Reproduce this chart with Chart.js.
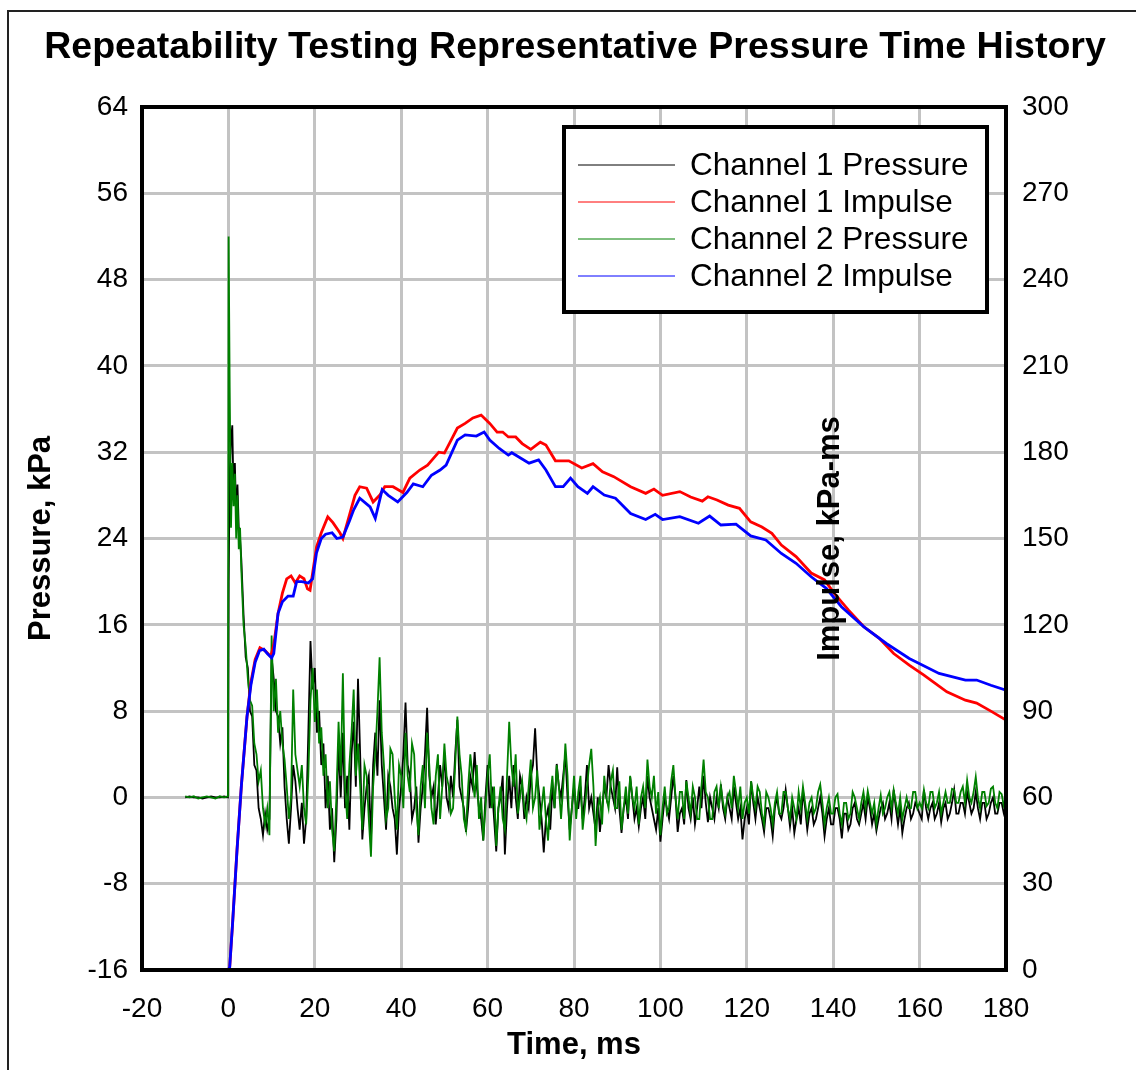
<!DOCTYPE html>
<html>
<head>
<meta charset="utf-8">
<title>Repeatability Testing Representative Pressure Time History</title>
<script src="https://cdn.jsdelivr.net/npm/chart.js@4.4.1/dist/chart.umd.min.js"></script>
<style>
    html, body { margin: 0; padding: 0; background: #fff; }
    #wrap { width: 1136px; height: 1070px; }
</style>
</head>
<body>
<div id="wrap"><canvas id="pressureChart" width="1136" height="1070"></canvas></div>
<script>
// --- DATA ---

// pressure sample times, ms
const pressureTime = [
    -10, -9, -8, -7, -6, -5, -4, -3, -2, -1,
    -0.1, 0.05, 0.3, 0.6, 0.9, 1.2, 1.5, 1.8, 2.1, 2.4,
    2.7, 3.0, 3.5, 4, 4.5, 5, 5.5, 6, 6.5, 7,
    7.5, 8, 8.5, 9, 9.5, 10, 10.5, 11, 11.5, 12,
    12.5, 13, 13.5, 14, 14.5, 15, 15.5, 16, 16.5, 17,
    17.5, 18, 18.5, 19, 19.5, 20, 20.5, 21, 21.5, 22,
    22.5, 23, 23.5, 24, 24.5, 25, 25.5, 26, 26.5, 27,
    27.5, 28, 28.5, 29, 29.5, 30,
    30.5, 31, 31.5, 32, 32.5, 33, 33.5, 34, 34.5, 35,
    35.5, 36, 36.5, 37, 37.5, 38, 38.5, 39, 39.5, 40,
    40.5, 41, 41.5, 42, 42.5, 43, 43.5, 44, 44.5, 45,
    45.5, 46, 46.5, 47, 47.5, 48, 48.5, 49, 49.5, 50,
    50.5, 51, 51.5, 52, 52.5, 53, 53.5, 54, 54.5, 55,
    55.5, 56, 56.5, 57, 57.5, 58, 58.5, 59, 59.5, 60,
    60.5, 61, 61.5, 62, 62.5, 63, 63.5, 64, 64.5, 65,
    65.5, 66, 66.5, 67, 67.5, 68, 68.5, 69, 69.5, 70,
    70.5, 71, 71.5, 72, 72.5, 73, 73.5, 74, 74.5, 75,
    75.5, 76, 76.5, 77, 77.5, 78, 78.5, 79, 79.5, 80,
    80.5, 81, 81.5, 82, 82.5, 83, 83.5, 84, 84.5, 85,
    85.5, 86, 86.5, 87, 87.5, 88, 88.5, 89, 89.5, 90,
    90.5, 91, 91.5, 92, 92.5, 93, 93.5, 94, 94.5, 95,
    95.5, 96, 96.5, 97, 97.5, 98, 98.5, 99, 99.5, 100,
    100.5, 101, 101.5, 102, 102.5, 103, 103.5, 104, 104.5, 105,
    105.5, 106, 106.5, 107, 107.5, 108, 108.5, 109, 109.5, 110,
    110.5, 111, 111.5, 112, 112.5, 113, 113.5, 114, 114.5, 115,
    115.5, 116, 116.5, 117, 117.5, 118, 118.5, 119, 119.5, 120,
    120.5, 121, 121.5, 122, 122.5, 123, 123.5, 124, 124.5, 125,
    125.5, 126, 126.5, 127, 127.5, 128, 128.5, 129, 129.5, 130,
    130.5, 131, 131.5, 132, 132.5, 133, 133.5, 134, 134.5, 135,
    135.5, 136, 136.5, 137, 137.5, 138, 138.5, 139, 139.5, 140,
    140.5, 141, 141.5, 142, 142.5, 143, 143.5, 144, 144.5, 145,
    145.5, 146, 146.5, 147, 147.5, 148, 148.5, 149, 149.5, 150,
    150.5, 151, 151.5, 152, 152.5, 153, 153.5, 154, 154.5, 155,
    155.5, 156, 156.5, 157, 157.5, 158, 158.5, 159, 159.5, 160,
    160.5, 161, 161.5, 162, 162.5, 163, 163.5, 164, 164.5, 165,
    165.5, 166, 166.5, 167, 167.5, 168, 168.5, 169, 169.5, 170,
    170.5, 171, 171.5, 172, 172.5, 173, 173.5, 174, 174.5, 175,
    175.5, 176, 176.5, 177, 177.5, 178, 178.5, 179, 179.5, 180
];

// Channel 1 pressure, kPa (black)
const ch1Pressure = [
    0.0, 0.1, 0.0, 0.0, -0.1, 0.0, 0.1, 0.0, 0.0, 0.1,
    0.0, 20, 30, 33, 34.5, 28, 31, 26, 29, 25,
    24, 22, 17, 13, 12, 8, 7.5, 3, 2.5, -1,
    -2, -3.5, -1.5, -3, -2, 13, 11, 8, 7.5, 5,
    6.5, 1, -2, -4.3, -1, 3, 1.5, -1, -3, -0.5,
    -4.3, -2, 6, 14.5, 10, 12, 6, 8, 3, 5,
    -1, 2, -3, -1, -6, -2, 5, 0, 6, -1,
    2, -3, 4, 7, 1, 11,
    4, -3.9, -1, 1, 2, -4, 3, 6, 2, 9,
    3, 0, -3, 2, 1, -1, -2, -5.3, -1, 1,
    4, 8.8, 3, 2, -2, -1, 1, -4.2, -1, 1,
    4, 8.3, 2, 0, 1, -2.5, 0, 3, 1, 4,
    0, -1, 2, 0, 4, 7.2, 1, 0, -1, -3.2,
    -1, 2, 1, 4.2, 1, -1, -2, -4, 0, 3,
    -1, 1, -2, -5, -1, 0, 2, -5.3, -1, 2,
    -1, 3, 0, -2, 2, 1, -2, 0, -1, 2,
    3, 6.4, 2, 0, -2, -5.1, -2, -1, -3, 1,
    -1, 3.1, 1, 0, 2, 4, 0, -3, -1, 1,
    -1, -1, 1, -2, 0, 3, -1, 0, -1.5, -3,
    0, -3.2, -1, 1, 0, 3, 1, 0, -1, 2.8,
    -1, -3.3, -1, 0, -2, 1.9, 0, -2, -1, -2.7,
    -1, 0, -2, 2, 0, -1, -2, -3, -1, -4.1,
    -2, 0, -1, -2, 0, 2, 0, -3.2, -1.5, -1,
    -2.5, 1.6, -1, -2, 0, -2.5, -1, 1, -1, 2,
    -0.5, -2.3, 0, -1, -2, 0, -1, 1.2, -1, -2,
    0, -1, -2, 1, -0.5, -2, -1, -3.9, -2, -1,
    -2.5, 1.5, -0.5, -2, 0, -1, -2, -3.2, -1, -1,
    -2, -3.6, -1, 0, -1.5, -2, -1, 0.7, -1, -2.7,
    -1, -3.3, -2, -1, -2.5, 0.6, -1, -3, -1.5, -1,
    -2.5, -2, -1, 0, -1.5, -3.6, -2, -1, -2.5, -2.5,
    -1, -1, -2, -3.8, -1.5, -1.5, -3, -2.5, -1, -0.5,
    -2, -2.5, -1.5, -0.5, -2, 0, -1, -2.5, -1.5, -3.1,
    -2, -1, -0.5, -2, -1.5, -0.5, -2, 0.7, -1, -2.5,
    -1, -3.3, -2, -1, -0.5, -2, -1.5, -0.5, -1, -1.5,
    -2, 0.7, -1, -2, -1, -0.5, -2, -1.5, -0.5, -2.3,
    -1, -0.5, -2, -1.5, -0.5, 0.7, -1.5, -1.5, -0.5, -0.5,
    -1.5, 0.5, -0.5, -1.5, -1, 0.5, -1, -2, -0.5, -0.5,
    -2, -1.5, -0.5, 0, -1.5, -1.5, -0.5, -0.5, -1.5, -2.2
];

// Channel 2 pressure, kPa (green)
const ch2Pressure = [
    0.1, 0.0, 0.1, -0.1, 0.0, 0.1, 0.0, -0.1, 0.1, 0.0,
    0.1, 52.0, 38, 25, 31, 27, 30, 24, 28, 23,
    25, 21, 16, 14, 11, 9, 8.5, 5, 4, 1.5,
    2.5, -1, -2.5, -1, -3.5, 15, 8, 11, 6, 8,
    5, 3.5, 1, -2, 0, 10, 4, 2.5, 1, 3,
    -1, -2.5, 2, 9, 12, 7, 10, 5, 6.5, 2,
    4, -1, 1.5, -3, -5, 0, 7, 2, 11.5, 1,
    -2, 3, 6, 10, 2, 5,
    1, -3, 3, 2, -2, -5.5, 1, 4, 8, 13,
    6, 3, -2, -1, 4.5, 4, 0, -3, 3, 2,
    -1, 6, 2, 0.5, 5, 4, -1, -3.5, 1, 3,
    -1, 6, 3, -1, -2.5, 2, 4, -2, 1, 5,
    2, 1, -1.5, -1, 3, 7.5, 4, 2, -2, -3,
    1, 4, 2, 0, 3, -2, 0, -4, -1, 2,
    4, -1, 1, -4.5, -1, 1, -2, -3, 2, 7,
    3, 1, 4, -1.5, 0, 1.5, -1, -2, 1, 3.5,
    -1, 0, 2.5, -3, -1, 1, -2, -4, 0, 2,
    -1, 3, 1, -2, 1, 5, 2, -4, -1, 2,
    -2, 0.5, 2, -3, -1, 1, 3, 4.5, 1, -4.5,
    -1, 0, -2.5, 2, 0, -1, 1.5, 2.5, -1, -1,
    1.5, -3, -1, 1, -1.5, 2, 0, -1, 1, -2.5,
    0, 1, -1, 3.5, 1, 0, 2, -1.5, 0.5, -3.5,
    -1, 1, -1.5, -1, 1.5, 3, 0, -2, 0.5, 0.5,
    -2, 1.5, 0, -1.5, 1, 0, -2, -2, 1, 3.5,
    0.5, 0, -2, -2, 0.5, 1, -1, 1, -0.5, -1.5,
    0, 0.5, -1, 2, 0.5, -1, 1, -2, -0.5, 0,
    -1.5, 1.5, 0, -1, 1, 0.5, -1.5, -2.5, 0.5, 0,
    -1, -2.5, -0.5, 0.5, -1.5, -1.5, 0.5, 0.5, -1, -2,
    0, -1, -2, 0.5, -1, 1, -0.5, -2, -0.5, 0,
    -1.5, -1, 0.5, 1.2, -0.5, -2.5, -1, 0, -1.5, -1.5,
    0, 0.3, -1.5, -2.5, -0.5, -0.5, -2, -1.5, 0.5, 0,
    -1, -2, -0.5, 0.5, -1, 0.6, -0.5, -1.5, -0.5, -2.5,
    -1, 0.2, -1.5, -1, 0, 0.5, -1, 0.7, -0.5, -1.5,
    0, -2, -1, 0, -1, -1, 0.5, 0.5, -1, -0.5,
    -1, 0.7, -0.5, -1, 0.5, 0.5, -1, -0.5, 0.5, -1.5,
    -0.5, 0.5, -0.5, -0.5, 0.8, 0.7, -0.5, -0.5, 0.5, 1.0,
    -0.5, 1.6, 0, -0.5, 0.5, 1.9, 0, -1, 0.5, 0.5,
    -0.8, -0.5, 0.8, 1, -0.5, -1, 0.5, 0.3, -0.8, -0.5
];

// Channel 1 impulse, kPa-ms (red)
const ch1ImpulseTime = [
    0, 0.3, 1, 2, 3, 4.3, 5.2, 6.2, 7.3, 8.5,
    9.8, 10.5, 11.5, 12.5, 13.5, 14.5, 15.5, 16.5, 17.5, 18.3,
    18.9, 20.4, 21.5, 23, 24.2, 25.8, 26.5, 28, 29.3, 30.4,
    32, 33.5, 35, 36.2, 38.1, 40.4, 42, 44.3, 46.1, 48.7,
    50, 51.5, 53, 54.8, 56.6, 58.5, 60.5, 62.2, 63.5, 64.8,
    66.5, 68, 70, 72.2, 73.5, 75.7, 78.8, 81.8, 84.4, 86.6,
    89.2, 93.1, 96.6, 98.5, 100.5, 104.5, 107, 109.7, 111, 113.1,
    115.7, 118.3, 120.9, 123.5, 125.8, 128, 131.4, 134.9, 138, 140.2,
    143.6, 147.1, 150.6, 154, 157.6, 161, 166.3, 170.6, 173.2, 176.5,
    180
];
const ch1Impulse = [
    0, 1, 17, 42, 64, 88, 100, 108, 112, 111,
    109, 113, 124, 131, 136, 137, 134.5, 137, 136, 132.5,
    132, 147, 152, 157.5, 155.5, 152, 150, 158, 165, 168,
    167.5, 162.7, 165, 168, 168, 166, 171, 173.8, 175.5, 180,
    179.7, 184, 188.4, 190, 191.9, 192.9, 190, 187, 187, 185.3,
    185.3, 183, 181, 183.5, 182.5, 177, 177, 174.5, 176, 173.2,
    171.5, 168, 165.7, 167.2, 165, 166.3, 164.4, 163, 164.5, 163.4,
    161.6, 160.5, 155.8, 154, 151.8, 147.7, 143.7, 138, 135.6, 131,
    125, 119.3, 115.4, 110, 106, 102.5, 96.7, 93.8, 92.8, 90,
    86.9
];

// Channel 2 impulse, kPa-ms (blue)
const ch2ImpulseTime = [
    0, 0.3, 1, 2, 3, 4.3, 5.2, 6.2, 7.2, 8.2,
    9.0, 10.0, 10.5, 11.5, 12.5, 13.8, 15.0, 15.8, 17.0, 18.5,
    19.5, 20.4, 21.5, 22.5, 24, 25.1, 26.5, 28, 29, 30.4,
    32.8, 34, 35.6, 37, 39.2, 41.3, 42.8, 45, 47, 49,
    50.4, 53, 54.8, 57.4, 59.2, 60.5, 62.7, 64.8, 65.6, 69.6,
    71.8, 73.5, 75.7, 77.5, 79.2, 80.9, 83.1, 84.4, 87, 89.6,
    93.1, 96.6, 98.8, 100.5, 104.5, 108.8, 111.4, 114, 117.5, 120.9,
    124.4, 128, 131.4, 134.9, 138.4, 141.9, 147.1, 152.3, 157.6, 164.5,
    170.6, 173.2, 176.5, 180
];
const ch2Impulse = [
    0, 1, 17, 41.7, 64, 88, 99, 107, 111, 111.5,
    110, 108.5, 110, 124, 128, 130, 130, 135, 135, 134.5,
    136, 145, 150, 151.5, 152, 150, 150.5, 156, 160, 164,
    161, 157, 167, 165, 162.7, 166, 169, 168, 172, 173.8,
    175.5, 184.2, 186, 185.6, 187, 184.2, 181.3, 179, 179.8, 176.2,
    177.3, 173.8, 168, 168, 171, 168, 165.7, 168, 165.1, 164,
    158.7, 156.6, 158.4, 156.6, 157.6, 155.3, 157.8, 154.7, 155, 150.9,
    149.5, 144.8, 141.4, 136.7, 132.7, 126.3, 119.3, 113.5, 108.3, 103.1,
    100.8, 100.8, 99, 97.3
];

// --- HELPERS ---
function toPoints(times, values) {
    if (times.length !== values.length) {
        console.error('length mismatch', times.length, values.length);
    }
    return times.map((t, i) => ({ x: t, y: values[i] }));
}

const FONT = '"Liberation Sans", Arial, Helvetica, sans-serif';
Chart.defaults.font.family = FONT;
Chart.defaults.color = '#000';

// white background + outer frame of the figure
const framePlugin = {
    id: 'frame',
    beforeDraw(chart) {
        const c = chart.ctx;
        c.save();
        c.fillStyle = '#fff';
        c.fillRect(0, 0, chart.width, chart.height);
        c.strokeStyle = '#222';
        c.lineWidth = 2;
        c.beginPath();
        c.moveTo(8, chart.height);
        c.lineTo(8, 11);
        c.lineTo(chart.width, 11);
        c.stroke();
        c.restore();
    },
    afterDatasetsDraw(chart) {
        const a = chart.chartArea;
        const c = chart.ctx;
        c.save();
        c.strokeStyle = '#000';
        c.lineWidth = 4;
        c.strokeRect(a.left, a.top, a.right - a.left, a.bottom - a.top);
        c.restore();
    }
};

// boxed legend inside the plot, top right
const legendBoxPlugin = {
    id: 'legendBox',
    afterDraw(chart) {
        const a = chart.chartArea;
        const c = chart.ctx;
        const boxW = 423, boxH = 185;
        const x0 = a.right - 19 - boxW;
        const y0 = a.top + 20;
        c.save();
        c.fillStyle = '#fff';
        c.fillRect(x0, y0, boxW, boxH);
        c.strokeStyle = '#000';
        c.lineWidth = 4;
        c.strokeRect(x0, y0, boxW, boxH);
        c.font = '31.5px ' + FONT;
        c.textBaseline = 'middle';
        c.textAlign = 'left';
        chart.data.datasets.forEach((ds, i) => {
            const y = y0 + 38 + i * 37;
            c.strokeStyle = ds.borderColor;
            c.lineWidth = 1;
            c.beginPath();
            c.moveTo(x0 + 14, y);
            c.lineTo(x0 + 111, y);
            c.stroke();
            c.fillStyle = '#000';
            c.fillText(ds.label, x0 + 126, y + 1);
        });
        c.restore();
    }
};

// right axis title, drawn where the original left it (inside the plot)
const impulseTitlePlugin = {
    id: 'impulseTitle',
    afterDraw(chart) {
        const a = chart.chartArea;
        const c = chart.ctx;
        c.save();
        c.translate(a.right - 176, (a.top + a.bottom) / 2);
        c.rotate(-Math.PI / 2);
        c.font = 'bold 31px ' + FONT;
        c.fillStyle = '#000';
        c.textAlign = 'center';
        c.textBaseline = 'middle';
        c.fillText('Impulse, kPa-ms', 0, 0);
        c.restore();
    }
};

const gridStyle = { color: '#c3c3c3', lineWidth: 3, drawTicks: false };

new Chart(document.getElementById('pressureChart'), {
    type: 'line',
    data: {
        datasets: [
            { label: 'Channel 1 Pressure', data: toPoints(pressureTime, ch1Pressure), borderColor: '#000000', borderWidth: 1.8, yAxisID: 'y', order: 4 },
            { label: 'Channel 1 Impulse', data: toPoints(ch1ImpulseTime, ch1Impulse), borderColor: '#ff0000', borderWidth: 2.8, yAxisID: 'y2', order: 2 },
            { label: 'Channel 2 Pressure', data: toPoints(pressureTime, ch2Pressure), borderColor: '#008000', borderWidth: 1.8, yAxisID: 'y', order: 3 },
            { label: 'Channel 2 Impulse', data: toPoints(ch2ImpulseTime, ch2Impulse), borderColor: '#0000ff', borderWidth: 2.8, yAxisID: 'y2', order: 1 }
        ]
    },
    options: {
        responsive: false,
        devicePixelRatio: 1,
        animation: false,
        layout: { padding: { left: 14, top: 0, right: 0, bottom: 0 } },
        elements: {
            point: { radius: 0 },
            line: { tension: 0, fill: false }
        },
        plugins: {
            legend: { display: false },
            tooltip: { enabled: false },
            title: {
                display: true,
                text: 'Repeatability Testing Representative Pressure Time History',
                color: '#000',
                font: { size: 37.5, weight: 'bold' },
                padding: { top: 25, bottom: 37 }
            }
        },
        scales: {
            x: {
                type: 'linear',
                min: -20,
                max: 180,
                ticks: { stepSize: 20, font: { size: 28 }, padding: 22, maxRotation: 0 },
                grid: gridStyle,
                border: { display: false },
                title: { display: true, text: 'Time, ms', font: { size: 31, weight: 'bold' }, padding: { top: 0, bottom: 6 } },
                afterFit: (s) => { s.height = 100; }
            },
            y: {
                position: 'left',
                min: -16,
                max: 64,
                ticks: { stepSize: 8, font: { size: 28 }, padding: 14 },
                grid: gridStyle,
                border: { display: false },
                title: { display: true, text: 'Pressure, kPa', font: { size: 31, weight: 'bold' }, padding: { top: 9, bottom: 0 } },
                afterFit: (s) => { s.width = 128; }
            },
            y2: {
                position: 'right',
                min: 0,
                max: 300,
                ticks: { stepSize: 30, font: { size: 28 }, padding: 16 },
                grid: { display: false, drawTicks: false },
                border: { display: false },
                afterFit: (s) => { s.width = 130; }
            }
        }
    },
    plugins: [framePlugin, legendBoxPlugin, impulseTitlePlugin]
});
</script>
</body>
</html>
